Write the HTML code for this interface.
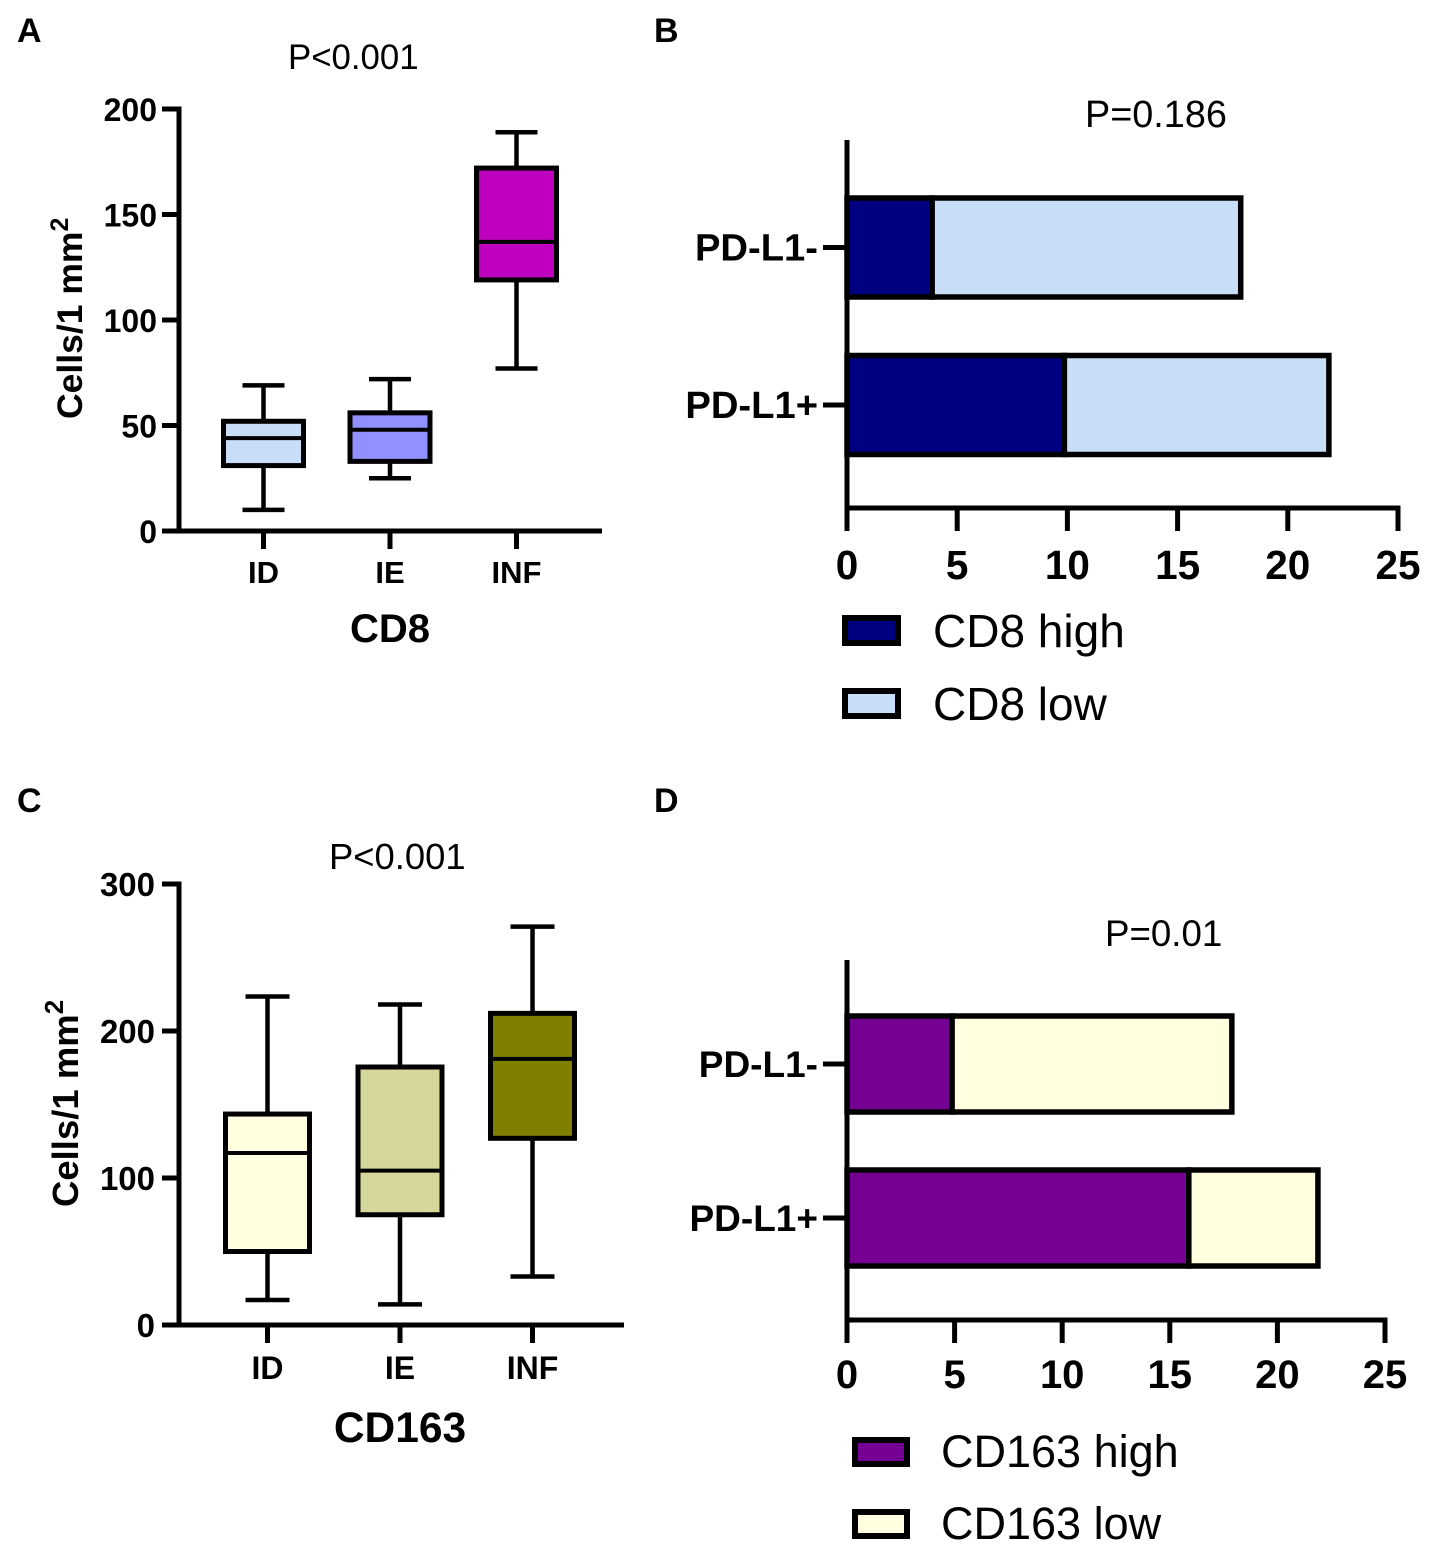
<!DOCTYPE html>
<html lang="en">
<head>
<meta charset="utf-8">
<title>CD8 and CD163 cell density and PD-L1 status</title>
<style>
html,body{margin:0;padding:0;background:#fff;}
svg{display:block;}
text{font-family:"Liberation Sans",Arial,sans-serif;fill:#000;}
.b{font-weight:700;}
</style>
</head>
<body>
<svg id="figure" xmlns="http://www.w3.org/2000/svg" width="1429" height="1547" viewBox="0 0 1429 1547">
  <rect x="0" y="0" width="1429" height="1547" fill="#fff"/>

  <text class="b" x="17" y="42" font-size="34">A</text>
  <text class="b" x="654" y="42" font-size="34">B</text>
  <text class="b" x="17" y="812" font-size="34">C</text>
  <text class="b" x="654" y="812" font-size="34">D</text>

  <text x="288" y="69" font-size="34.8">P&lt;0.001</text>
  <text x="1085" y="127" font-size="37.8">P=0.186</text>
  <text x="329" y="869" font-size="36.4">P&lt;0.001</text>
  <text x="1105" y="946" font-size="36.7">P=0.01</text>

  <text class="b" x="390" y="642" font-size="40" text-anchor="middle">CD8</text>
  <text class="b" x="400" y="1442" font-size="42.5" text-anchor="middle">CD163</text>

  <text class="b" transform="translate(82 419) rotate(-90)" font-size="35.5">Cells/1 mm<tspan font-size="25" dy="-14">2</tspan></text>
  <text class="b" transform="translate(78 1207) rotate(-90)" font-size="36.5">Cells/1 mm<tspan font-size="26" dy="-15">2</tspan></text>

  <g id="panel-a"></g>
  <g id="panel-b"></g>
  <g id="panel-c"></g>
  <g id="panel-d"></g>
</svg>

<script>
const boxCategories = ['ID', 'IE', 'INF'];

const cd8WhiskerLow = [10, 25, 77];
const cd8Q1 = [31, 33, 119];
const cd8Median = [44, 48, 137];
const cd8Q3 = [52, 56, 172];
const cd8WhiskerHigh = [69, 72, 189];
const cd8TickLabels = [0, 50, 100, 150, 200];

const cd163WhiskerLow = [17, 14, 33];
const cd163Q1 = [50, 75, 127];
const cd163Median = [117, 105, 181];
const cd163Q3 = [143.5, 175.5, 212];
const cd163WhiskerHigh = [223.5, 218, 271];
const cd163TickLabels = [0, 100, 200, 300];

const barCategories = ['PD-L1-', 'PD-L1+'];
const barTickLabels = [0, 5, 10, 15, 20, 25];

const cd8High = [4, 10];
const cd8Low = [14, 12];
const cd8SeriesNames = ['CD8 high', 'CD8 low'];

const cd163High = [5, 16];
const cd163Low = [13, 6];
const cd163SeriesNames = ['CD163 high', 'CD163 low'];

const NS = 'http://www.w3.org/2000/svg';

function make(parent, tag, props) {
  const node = document.createElementNS(NS, tag);
  for (const key in props) node.setAttribute(key, props[key]);
  parent.appendChild(node);
  return node;
}

function stroke(parent, x1, y1, x2, y2, width) {
  return make(parent, 'line', { x1: x1, y1: y1, x2: x2, y2: y2, stroke: '#000', 'stroke-width': width });
}

function label(parent, x, y, str, size, anchor, bold) {
  const node = make(parent, 'text', { x: x, y: y, 'font-size': size, 'text-anchor': anchor });
  if (bold) node.setAttribute('class', 'b');
  node.textContent = str;
  return node;
}

function drawBoxPlot(cfg) {
  const root = document.getElementById(cfg.id);
  const maxTick = cfg.ticks[cfg.ticks.length - 1];
  const yScale = function (v) { return cfg.y0 - (v / maxTick) * (cfg.y0 - cfg.yTop); };
  const xScale = function (i) { return cfg.xStart + i * cfg.xStep; };

  const yAxis = stroke(root, cfg.xAxis, cfg.yTop - 2.5, cfg.xAxis, cfg.y0 + 2.5, 5);
  
  
  const xAxis = stroke(root, cfg.xAxis - 17, cfg.y0, cfg.xEnd, cfg.y0, 5);
  
  

  cfg.ticks.forEach(function (t) {
    const mark = stroke(root, cfg.xAxis - 17, yScale(t), cfg.xAxis, yScale(t), 5);
    
    
    const text = label(root, cfg.tickRight, yScale(t) + 12, String(t), cfg.tickSize, 'end', true);
    
    
  });

  boxCategories.forEach(function (cat, i) {
    const cx = xScale(i);
    const tick = stroke(root, cx, cfg.y0, cx, cfg.y0 + 18, 5);
    
    
    const text = label(root, cx, cfg.catBase, cat, cfg.catSize, 'middle', true);
    
    

    const whisker = stroke(root, cx, yScale(cfg.high[i]), cx, yScale(cfg.low[i]), 4.5);
    
    
    const capTop = stroke(root, cx - cfg.capHalf, yScale(cfg.high[i]), cx + cfg.capHalf, yScale(cfg.high[i]), 4.5);
    
    
    const capBottom = stroke(root, cx - cfg.capHalf, yScale(cfg.low[i]), cx + cfg.capHalf, yScale(cfg.low[i]), 4.5);
    
    

    const box = make(root, 'rect', {
      x: cx - cfg.boxHalf,
      y: yScale(cfg.q3[i]),
      width: cfg.boxHalf * 2,
      height: yScale(cfg.q1[i]) - yScale(cfg.q3[i]),
      fill: cfg.colors[i],
      stroke: '#000',
      'stroke-width': 5
    });
    
    

    const median = stroke(root, cx - cfg.boxHalf, yScale(cfg.median[i]), cx + cfg.boxHalf, yScale(cfg.median[i]), 4);
    
    
  });
}

function drawStackedBars(cfg) {
  const root = document.getElementById(cfg.id);
  const maxTick = cfg.ticks[cfg.ticks.length - 1];
  const xScale = function (v) { return cfg.x0 + (v / maxTick) * (cfg.x1 - cfg.x0); };

  const yAxis = stroke(root, cfg.x0, cfg.yTop, cfg.x0, cfg.yAxis + 23, 5);
  
  
  const xAxis = stroke(root, cfg.x0, cfg.yAxis, cfg.x1 + 2.5, cfg.yAxis, 5);
  
  

  cfg.ticks.forEach(function (t) {
    const mark = stroke(root, xScale(t), cfg.yAxis, xScale(t), cfg.yAxis + 23, 5);
    
    
    const text = label(root, xScale(t), cfg.tickBase, String(t), cfg.tickSize, 'middle', true);
    
    
  });

  barCategories.forEach(function (cat, i) {
    const slug = cat.indexOf('+') >= 0 ? 'pd-l1-positive' : 'pd-l1-negative';
    const top = cfg.barTops[i];
    const mid = top + cfg.barHeight / 2;

    const tick = stroke(root, cfg.x0 - 24, mid, cfg.x0, mid, 5);
    
    
    const text = label(root, cfg.x0 - 29, mid + cfg.catOffset, cat, cfg.catSize, 'end', true);
    
    

    const highEnd = xScale(cfg.high[i]) - cfg.inset;
    const lowEnd = xScale(cfg.high[i] + cfg.low[i]) - cfg.inset;
    const highBar = make(root, 'rect', {
      x: cfg.x0, y: top, width: highEnd - cfg.x0, height: cfg.barHeight,
      fill: cfg.colors[0], stroke: '#000', 'stroke-width': 5.5
    });
    
    
    const lowBar = make(root, 'rect', {
      x: highEnd, y: top, width: lowEnd - highEnd, height: cfg.barHeight,
      fill: cfg.colors[1], stroke: '#000', 'stroke-width': 5.5
    });
    
    
  });

  cfg.names.forEach(function (name, i) {
    const swatch = make(root, 'rect', {
      x: cfg.legendX, y: cfg.legendY[i], width: cfg.legendW, height: cfg.legendH,
      fill: cfg.colors[i], stroke: '#000', 'stroke-width': 6
    });
    
    
    const text = label(root, cfg.legendTextX, cfg.legendBase[i], name, cfg.legendSize, 'start', false);
    
    
  });
}

drawBoxPlot({
  id: 'panel-a', ticks: cd8TickLabels, y0: 531, yTop: 109, xAxis: 179, xEnd: 602, tickRight: 157, tickSize: 32,
  xStart: 263.5, xStep: 126.5, boxHalf: 40, capHalf: 21, catBase: 583, catSize: 31,
  low: cd8WhiskerLow, q1: cd8Q1, median: cd8Median, q3: cd8Q3, high: cd8WhiskerHigh,
  colors: ['#c7ddf8', '#9090ff', '#bf00bf']
});

drawBoxPlot({
  id: 'panel-c', ticks: cd163TickLabels, y0: 1325, yTop: 884, xAxis: 179, xEnd: 624, tickRight: 155, tickSize: 33,
  xStart: 267.5, xStep: 132.5, boxHalf: 42, capHalf: 22, catBase: 1379, catSize: 32,
  low: cd163WhiskerLow, q1: cd163Q1, median: cd163Median, q3: cd163Q3, high: cd163WhiskerHigh,
  colors: ['#ffffe0', '#d6d79b', '#808000']
});

drawStackedBars({
  id: 'panel-b', ticks: barTickLabels, x0: 847, x1: 1398, yTop: 140, yAxis: 508,
  barTops: [198, 355.5], barHeight: 99, inset: 3, high: cd8High, low: cd8Low,
  tickBase: 579, tickSize: 40.5, catSize: 38.2, catOffset: 13,
  colors: ['#000080', '#c8def8'], names: cd8SeriesNames, legendSize: 46,
  legendX: 845, legendY: [618, 691], legendW: 53, legendH: 25, legendTextX: 933, legendBase: [647, 720]
});

drawStackedBars({
  id: 'panel-d', ticks: barTickLabels, x0: 847, x1: 1385, yTop: 960, yAxis: 1320,
  barTops: [1016, 1170], barHeight: 96, inset: 2.5, high: cd163High, low: cd163Low,
  tickBase: 1388, tickSize: 40, catSize: 37, catOffset: 13,
  colors: ['#750094', '#ffffe0'], names: cd163SeriesNames, legendSize: 45,
  legendX: 855, legendY: [1440, 1512], legendW: 52, legendH: 24, legendTextX: 941, legendBase: [1467, 1539]
});
</script>
</body>
</html>
